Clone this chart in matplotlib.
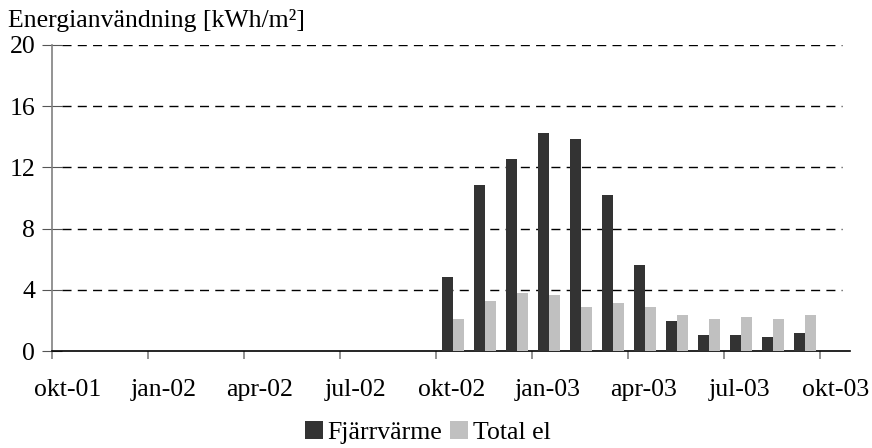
import matplotlib
matplotlib.use("Agg")
import matplotlib.pyplot as plt
import numpy as np

plt.rcParams['font.family'] = ['Liberation Serif', 'DejaVu Serif']

# months from okt-01 (index 0) to okt-03 (index 24)
tick_labels = ["okt-01", "jan-02", "apr-02", "jul-02", "okt-02",
               "jan-03", "apr-03", "jul-03", "okt-03"]
# data exists from okt-02 (month index 12) to sep-03 (index 23)
months = list(range(12, 24))
fjarrvarme = [4.84, 10.85, 12.55, 14.25, 13.86, 10.2, 5.62, 1.96, 1.05, 1.05, 0.92, 1.18]
total_el = [2.09, 3.27, 3.79, 3.66, 2.88, 3.14, 2.88, 2.35, 2.09, 2.22, 2.09, 2.35]

fig = plt.figure(figsize=(8.72, 4.48), dpi=100)
ax = fig.add_axes([52 / 872, (448 - 351) / 448, (850 - 52) / 872, (351 - 45) / 448])

x = np.array(months)
w = 0.34
ax.bar(x + 0.19, fjarrvarme, width=w, align='edge', color='#333333', label='Fjärrvärme', zorder=3)
ax.bar(x + 0.53, total_el, width=w, align='edge', color='#c0c0c0', label='Total el', zorder=3)

ax.set_xlim(0, 24.94)
ax.set_ylim(0, 20)
ax.set_yticks([0, 4, 8, 12, 16, 20])
# labels sit in the middle of each month slot, tick marks on the slot borders
ax.set_xticks(np.arange(0, 25, 3) + 0.5)
ax.set_xticklabels(tick_labels)
ax.set_xticks(range(0, 25, 3), minor=True)

for y in [4, 8, 12, 16, 20]:
    ax.plot([0.3, 24.7], [y, y], color='black', lw=1, ls=(0, (6.5, 4.5)), zorder=2)

for s in ['top', 'right']:
    ax.spines[s].set_visible(False)
ax.spines['left'].set_color('#808080')
ax.spines['left'].set_linewidth(1.2)
ax.spines['bottom'].set_color('black')
ax.spines['bottom'].set_linewidth(1.2)

fs = 18.5
ax.tick_params(axis='y', direction='inout', length=14, color='#555555', labelsize=fs, pad=5)
ax.tick_params(axis='x', which='major', length=0, labelsize=fs, pad=20)
ax.tick_params(axis='x', which='minor', direction='out', length=6, color='#808080', width=1.2)

fig.text(8 / 872, 1 - 20 / 448, "Energianvändning [kWh/m²]", fontsize=fs, va='center', ha='left')

ax.legend(loc='center', bbox_to_anchor=(0.471, -0.265), ncol=2, frameon=False, fontsize=fs,
          handlelength=0.7, handleheight=0.7, handletextpad=0.2, columnspacing=0.3, borderpad=0)

fig.savefig("out.png", dpi=100)
